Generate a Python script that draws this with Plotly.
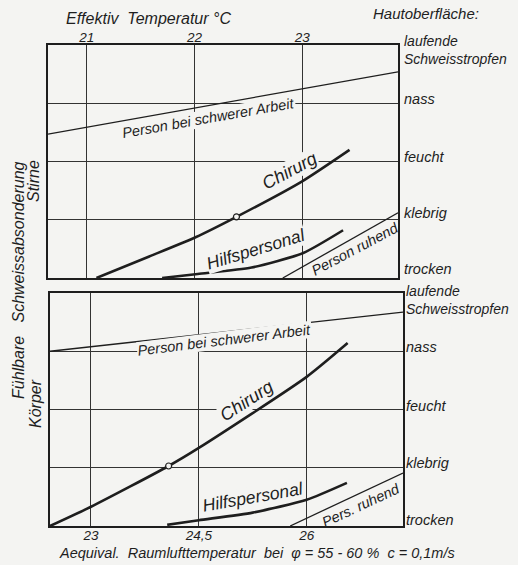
import plotly.graph_objects as go

W, H = 518, 565
BG = "#f4f4f2"
INK = "#1e1e1e"
FONT = "Liberation Sans"

# ---------------- data ----------------
levels = [0, 1, 2, 3, 4]
level_names = ["trocken", "klebrig", "feucht", "nass", "laufende<br>Schweisstropfen"]

# top panel: Stirne, x = Effektiv Temperatur
top_ticks = [21, 22, 23]
top_ticktext = ["21", "22", "23"]
top_range = [20.64, 23.89]

stirne_schwer_x = [20.64, 23.89]
stirne_schwer_y = [2.47, 3.54]
stirne_chirurg_x = [21.09, 21.58, 22.01, 22.39, 23.0, 23.44]
stirne_chirurg_y = [0.0, 0.37, 0.70, 1.05, 1.66, 2.2]
stirne_chirurg_pt_x = [22.39]
stirne_chirurg_pt_y = [1.05]
stirne_hilf_x = [21.70, 22.03, 22.53, 23.01, 23.38]
stirne_hilf_y = [0.0, 0.07, 0.18, 0.43, 0.82]
stirne_ruhend_x = [22.82, 23.89]
stirne_ruhend_y = [0.0, 1.12]

# bottom panel: Körper, x = Aequival. Raumlufttemperatur
bot_ticks = [23, 24.5, 26]
bot_ticktext = ["23", "24,5", "26"]
bot_range = [22.43, 27.34]

koerper_schwer_x = [22.43, 27.34]
koerper_schwer_y = [3.0, 3.67]
koerper_chirurg_x = [22.43, 23.0, 24.08, 24.5, 26.0, 26.57]
koerper_chirurg_y = [0.0, 0.33, 1.03, 1.34, 2.56, 3.14]
koerper_chirurg_pt_x = [24.08]
koerper_chirurg_pt_y = [1.03]
koerper_hilf_x = [24.06, 24.5, 25.25, 26.0, 26.56]
koerper_hilf_y = [0.02, 0.1, 0.23, 0.45, 0.74]
koerper_ruhend_x = [25.77, 27.34]
koerper_ruhend_y = [0.0, 0.91]

# ---------------- figure ----------------
fig = go.Figure()

def line(x, y, xa, ya, width):
    fig.add_trace(go.Scatter(x=x, y=y, xaxis=xa, yaxis=ya, mode="lines",
                             line=dict(color=INK, width=width, shape="spline", smoothing=0.6),
                             hoverinfo="skip", showlegend=False))

def point(x, y, xa, ya):
    fig.add_trace(go.Scatter(x=x, y=y, xaxis=xa, yaxis=ya, mode="markers",
                             marker=dict(size=6, color=BG, line=dict(color=INK, width=1.2)),
                             hoverinfo="skip", showlegend=False))

def px(v):
    return v / W

def py(v):
    return 1 - v / H

axis_common = dict(showline=True, mirror=True, linecolor=INK, linewidth=1.6,
                   showgrid=True, gridcolor="#333333", gridwidth=1, zeroline=False,
                   ticks="", fixedrange=True)

fig.update_layout(
    width=W, height=H, autosize=False,
    margin=dict(l=0, r=0, t=0, b=0),
    paper_bgcolor=BG, plot_bgcolor=BG,
    font=dict(family=FONT, color=INK, style="italic"),
    xaxis=dict(domain=[px(48), px(398)], range=top_range, anchor="y", side="top",
               tickvals=top_ticks, ticktext=top_ticktext, ticklabelstandoff=-4,
               tickfont=dict(size=13.5, family=FONT, style="italic"), **axis_common),
    yaxis=dict(domain=[py(278), py(45)], range=[0, 4], anchor="x",
               tickvals=levels, showticklabels=False, **axis_common),
    xaxis2=dict(domain=[px(50), px(403)], range=bot_range, anchor="y2", side="bottom",
                tickvals=bot_ticks, ticktext=bot_ticktext, ticklabelstandoff=-4,
                tickfont=dict(size=13.5, family=FONT, style="italic"), **axis_common),
    yaxis2=dict(domain=[py(526), py(293)], range=[0, 4], anchor="x2",
                tickvals=levels, showticklabels=False, **axis_common),
)

ann = []

def text(t, x, y, size, xref="paper", yref="paper", angle=0, xanchor="center",
         yanchor="middle", bg=None, align="center"):
    d = dict(text=t, x=x, y=y, xref=xref, yref=yref, showarrow=False, textangle=angle,
             xanchor=xanchor, yanchor=yanchor, borderpad=0, align=align,
             font=dict(family=FONT, size=size, color=INK, style="italic"))
    if bg:
        d["bgcolor"] = bg
    ann.append(d)

# headings
text("Effektiv  Temperatur °C", px(148), py(18), 16)
text("Hautoberfläche:", px(426), py(14), 15)
text("Aequival.  Raumlufttemperatur  bei  φ = 55 - 60 %  c = 0,1m/s", px(257), py(553), 14.5)
text("Fühlbare   Schweissabsonderung", px(18), py(280), 16, angle=-90)
text("Stirne", px(33), py(181), 16, angle=-90)
text("Körper", px(35), py(404), 16, angle=-90)

# right-hand level labels
top_label_y = [269, 213, 157, 99, 50]
bot_label_y = [520, 463, 406, 347, 300]
for name, yy in zip(level_names, top_label_y):
    text(name, px(403), py(yy), 14.5 if "<br>" not in name else 14, xanchor="left", align="left")
for name, yy in zip(level_names, bot_label_y):
    text(name, px(405), py(yy), 14.5 if "<br>" not in name else 14, xanchor="left", align="left")

# curve labels (data coordinates)
text("Person bei schwerer Arbeit", 22.13, 2.75, 14.5, "x", "y", -10, bg=BG)
text("Chirurg", 22.88, 1.84, 18, "x", "y", -28, bg=BG)
text("Hilfspersonal", 22.575, 0.49, 17.5, "x", "y", -17, bg=BG)
text("Person ruhend", 23.49, 0.50, 14.5, "x", "y", -28)

text("Person bei schwerer Arbeit", 24.86, 3.19, 14.5, "x2", "y2", -7, bg=BG)
text("Chirurg", 25.16, 2.15, 18, "x2", "y2", -33, bg=BG)
text("Hilfspersonal", 25.25, 0.49, 17.5, "x2", "y2", -10, bg=BG)
text("Pers. ruhend", 26.76, 0.36, 14.5, "x2", "y2", -25)

fig.update_layout(annotations=ann)

# curves drawn after layout so they sit on top of gridlines
line(stirne_schwer_x, stirne_schwer_y, "x", "y", 1.3)
line(stirne_chirurg_x, stirne_chirurg_y, "x", "y", 2.6)
line(stirne_hilf_x, stirne_hilf_y, "x", "y", 2.6)
line(stirne_ruhend_x, stirne_ruhend_y, "x", "y", 1.3)
point(stirne_chirurg_pt_x, stirne_chirurg_pt_y, "x", "y")

line(koerper_schwer_x, koerper_schwer_y, "x2", "y2", 1.3)
line(koerper_chirurg_x, koerper_chirurg_y, "x2", "y2", 2.6)
line(koerper_hilf_x, koerper_hilf_y, "x2", "y2", 2.6)
line(koerper_ruhend_x, koerper_ruhend_y, "x2", "y2", 1.3)
point(koerper_chirurg_pt_x, koerper_chirurg_pt_y, "x2", "y2")

fig.write_html(
    "out.html",
    config={"displayModeBar": False, "staticPlot": True},
    post_script=(
        "document.body.style.margin='0';"
        "document.body.style.padding='0';"
        "document.body.style.background='" + BG + "';"
    ),
)
